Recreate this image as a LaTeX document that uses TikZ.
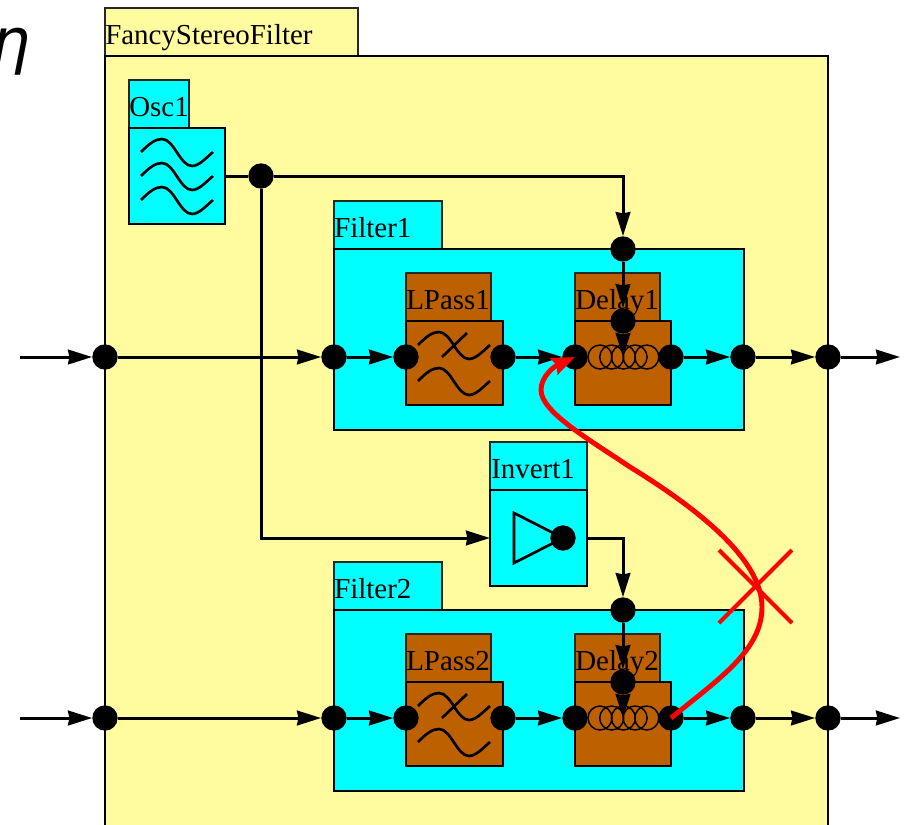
\documentclass[tikz,border=0pt]{standalone}
\usepackage{fontspec}
\setmainfont{Liberation Serif}
\newfontfamily\etafont{DejaVu Sans}
\usetikzlibrary{arrows.meta}
\definecolor{paleyellow}{HTML}{FFFB9E}
\definecolor{filterbrown}{HTML}{BD6000}
\definecolor{brightcyan}{HTML}{00FFFF}
\definecolor{brightred}{HTML}{FF0000}
\tikzset{
    port/.style={circle, fill=black, inner sep=0pt, minimum size=19pt},
    tablabel/.style={anchor=base west, inner sep=0pt, font=\fontsize{21.7}{24}\selectfont},
    tabedge/.style={draw=black!85, line width=1.25pt},
    boxedge/.style={draw=black, line width=2pt},
    wire/.style={line width=2.25pt, -{Stealth[length=18pt, width=11pt, inset=1pt]}},
    plainwire/.style={line width=2.25pt},
    wave/.pic={\draw[line width=2pt] (0,0) .. controls (8,-8) and (14,-13) .. (21,-13) .. controls (33,-13) and (39,14) .. (51,14) .. controls (58,14) and (65,6) .. (72,0);},
}
\begin{document}
\begin{tikzpicture}[x=0.75pt, y=-0.75pt]
    \useasboundingbox (0,0) rectangle (904,825);
    \clip (0,0) rectangle (904,825);
    \node[font=\etafont\itshape\fontsize{46}{46}\selectfont, inner sep=0pt, anchor=base east] (eta) at (31,62) {η};
    % outer block
    \filldraw[fill=paleyellow, tabedge] (105,8) rectangle (358,56);
    \filldraw[fill=paleyellow, boxedge] (105,56) rectangle (828,860);
    \node[tablabel] (outerlabel) at (105,44) {FancyStereoFilter};
    % oscillator
    \filldraw[fill=brightcyan, tabedge] (129,80) rectangle (189,128);
    \filldraw[fill=brightcyan, boxedge] (129,128) rectangle (225,224);
    \node[tablabel] (osclabel) at (129,116) {Osc1};
    \foreach \y in {152,176,200} {
        \pic at (141,\y) {wave};
    }
    \coordinate (oscout) at (225,176);
    \node[port] (split) at (261,176) {};
    % inverter
    \filldraw[fill=brightcyan, tabedge] (490,442) rectangle (587,490);
    \filldraw[fill=brightcyan, boxedge] (490,490) rectangle (587,586);
    \node[tablabel] (invlabel) at (491,478) {Invert1};
    \draw[line width=2pt] (563,538) -- (514,513) -- (514,563) -- cycle;
    \node[port] (invdot) at (563,538) {};
    \coordinate (invin) at (490,538);
    \coordinate (invout) at (587,538);
    % both filter rows
    \foreach \n/\d in {1/0, 2/361} {
        \begin{scope}[yshift=-0.75pt*\d]
            \filldraw[fill=brightcyan, tabedge] (334,201) rectangle (442,249);
            \filldraw[fill=brightcyan, boxedge] (334,249) rectangle (744,430);
            \node[tablabel] (filterlabel\n) at (334,237) {Filter\n};
            \filldraw[fill=filterbrown, tabedge] (406,273) rectangle (491,321);
            \filldraw[fill=filterbrown, boxedge] (406,321) rectangle (503,405);
            \node[tablabel] (lpasslabel\n) at (406,309) {LPass\n};
            \filldraw[fill=filterbrown, tabedge] (575,273) rectangle (660,321);
            \filldraw[fill=filterbrown, boxedge] (575,321) rectangle (671,405);
            \node[tablabel] (delaylabel\n) at (575,309) {Delay\n};
            \pic at (418,345) {wave};
            \pic at (418,381) {wave};
            \draw[line width=2pt] (442,357) -- (467,333);
            \foreach \cx in {600,611.7,623.4,635.1,646.8} {
                \draw[line width=1.1pt] (\cx,357) circle (12);
            }
            \coordinate (mid\n) at (623,357);
            \coordinate (start\n) at (20,357);
            \coordinate (end\n) at (900,357);
            \node[port] (outerin\n) at (105,357) {};
            \node[port] (filterin\n) at (334,357) {};
            \node[port] (lpassin\n) at (406,357) {};
            \node[port] (lpassout\n) at (503,357) {};
            \node[port] (delayin\n) at (575,357) {};
            \node[port] (delayout\n) at (671,357) {};
            \node[port] (filterout\n) at (743,357) {};
            \node[port] (outerout\n) at (828,357) {};
            \node[port] (ctrlfilter\n) at (623,249) {};
            \node[port] (ctrldelay\n) at (623,321) {};
            \draw[wire] (start\n) -- (outerin\n);
            \draw[wire] (outerin\n) -- (filterin\n);
            \draw[wire] (filterin\n) -- (lpassin\n);
            \draw[wire] (lpassout\n) -- (delayin\n);
            \draw[wire] (delayout\n) -- (filterout\n);
            \draw[wire] (filterout\n) -- (outerout\n);
            \draw[wire] (outerout\n) -- (end\n);
            \draw[wire] (ctrlfilter\n) -- (ctrldelay\n);
            \draw[wire] (ctrldelay\n) -- (mid\n);
        \end{scope}
    }
    % control wires
    \draw[plainwire] (oscout) -- (split);
    \draw[wire] (split) -| (ctrlfilter1);
    \draw[wire] (split) |- (invin);
    \draw[wire] (invout) -| (ctrlfilter2);
    % rejected feedback path
    \draw[brightred, line width=3.7pt, -{Stealth[length=17pt, width=13pt, inset=2pt]}] (delayout2.center)
        .. controls (720,678) and (762,650) .. (762,607)
        .. controls (762,560) and (700,510) .. (630,467)
        .. controls (590,440) and (541,412) .. (541,390)
        .. controls (541,376) and (555,366) .. (delayin1.center);
    \coordinate (crossa) at (719,550);
    \coordinate (crossb) at (792,623);
    \coordinate (crossc) at (792,550);
    \coordinate (crossd) at (719,623);
    \draw[brightred, line width=3pt] (crossa) -- (crossb);
    \draw[brightred, line width=3pt] (crossc) -- (crossd);
\end{tikzpicture}
\end{document}
